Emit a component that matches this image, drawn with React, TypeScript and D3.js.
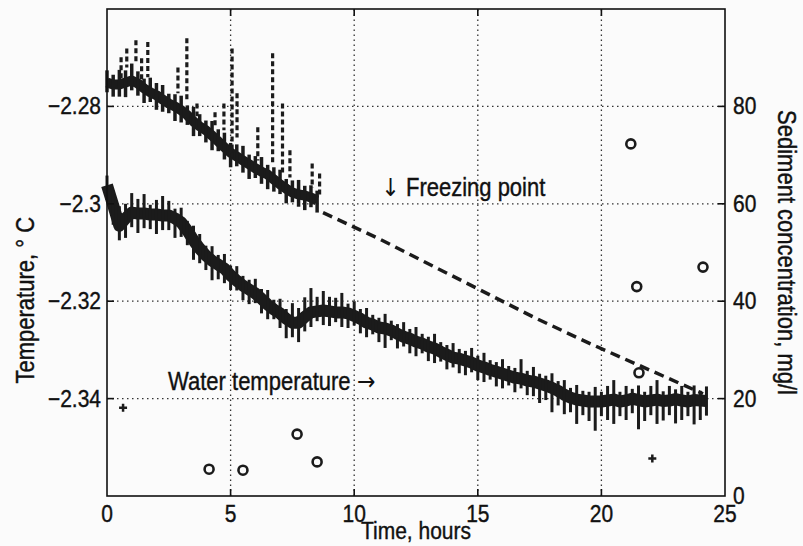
import React from "react";
import * as d3 from "d3";

const waterHours = [
  0, 0.25, 0.5, 0.75, 1, 1.25, 1.5, 1.75, 2, 2.25, 2.5, 2.75, 3, 3.25, 3.5, 3.75,
  4, 4.25, 4.5, 4.75, 5, 5.25, 5.5, 5.75, 6, 6.25, 6.5, 6.75, 7, 7.25, 7.5, 7.75,
  8, 8.25, 8.5, 8.75, 9, 9.25, 9.5, 9.75, 10, 10.25, 10.5, 10.75, 11, 11.25, 11.5, 11.75,
  12, 12.25, 12.5, 12.75, 13, 13.25, 13.5, 13.75, 14, 14.25, 14.5, 14.75, 15, 15.25, 15.5, 15.75,
  16, 16.25, 16.5, 16.75, 17, 17.25, 17.5, 17.75, 18, 18.25, 18.5, 18.75, 19, 19.25, 19.5, 19.75,
  20, 20.25, 20.5, 20.75, 21, 21.25, 21.5, 21.75, 22, 22.25, 22.5, 22.75, 23, 23.25, 23.5, 23.75,
  24, 24.25,
];
const waterTemp = [
  -2.2962, -2.3003, -2.3045, -2.303, -2.3018, -2.302, -2.302, -2.3022, -2.3022, -2.3024, -2.3024, -2.303, -2.3038, -2.3055, -2.3075, -2.3092,
  -2.3106, -2.3117, -2.3125, -2.3133, -2.3147, -2.3158, -2.3168, -2.3176, -2.3184, -2.3195, -2.3207, -2.3217, -2.3225, -2.3236, -2.3244, -2.3244,
  -2.3232, -2.3223, -2.3221, -2.3219, -2.3221, -2.3223, -2.3223, -2.3225, -2.323, -2.3236, -2.3244, -2.3248, -2.3254, -2.3256, -2.326, -2.3267,
  -2.3273, -2.3277, -2.3283, -2.3287, -2.3293, -2.3297, -2.3304, -2.331, -2.3316, -2.3318, -2.3322, -2.3326, -2.3332, -2.3336, -2.3341, -2.3345,
  -2.3349, -2.3353, -2.3357, -2.3359, -2.3363, -2.3365, -2.3369, -2.3373, -2.3378, -2.3384, -2.3392, -2.3398, -2.3402, -2.3404, -2.3406, -2.3406,
  -2.3406, -2.3404, -2.3402, -2.3406, -2.3404, -2.34, -2.3403, -2.3406, -2.3404, -2.3402, -2.3405, -2.3404, -2.3401, -2.3404, -2.3406, -2.3403,
  -2.3404, -2.3405,
];
// scatter above / below the trace, in mK
const waterUp = [
  2, 3, 4, 3, 4, 3, 4, 2, 3, 4, 3, 2, 3, 2, 3, 3, 2, 3, 2, 3,
  2, 3, 2, 2, 3, 2, 3, 2, 3, 2, 4, 3, 4, 5, 3, 4, 3, 3, 4, 2,
  3, 2, 3, 2, 2, 3, 2, 2, 3, 2, 3, 2, 2, 3, 2, 2, 3, 2, 2, 3,
  2, 3, 2, 2, 3, 2, 2, 4, 2, 3, 2, 2, 3, 2, 3, 2, 3, 2, 2, 3,
  2, 3, 4, 2, 3, 2, 3, 2, 3, 4, 2, 3, 2, 3, 2, 3, 2, 3,
];
const waterDown = [
  3, 4, 3, 4, 3, 4, 3, 3, 4, 3, 3, 4, 3, 3, 4, 3, 3, 4, 3, 3,
  3, 2, 3, 3, 2, 3, 3, 2, 3, 4, 3, 4, 3, 3, 2, 3, 3, 2, 3, 3,
  2, 3, 3, 2, 3, 4, 2, 3, 2, 3, 3, 2, 3, 3, 2, 3, 2, 3, 3, 2,
  3, 3, 2, 3, 3, 2, 3, 2, 3, 3, 4, 3, 5, 3, 4, 3, 5, 3, 4, 6,
  3, 4, 5, 3, 4, 3, 6, 4, 3, 5, 4, 3, 5, 4, 3, 5, 4, 3,
];

// measured freezing point, first 8.5 h
const freezeHours = [
  0, 0.25, 0.5, 0.75, 1, 1.25, 1.5, 1.75, 2, 2.25, 2.5, 2.75, 3, 3.25, 3.5, 3.75,
  4, 4.25, 4.5, 4.75, 5, 5.25, 5.5, 5.75, 6, 6.25, 6.5, 6.75, 7, 7.25, 7.5, 7.75,
  8, 8.25, 8.5,
];
const freezeTemp = [
  -2.2751, -2.2755, -2.2755, -2.2751, -2.2747, -2.2753, -2.2763, -2.2771, -2.2777, -2.2786, -2.2794, -2.28,
  -2.2808, -2.2818, -2.2831, -2.2841, -2.2849, -2.286, -2.2872, -2.2884, -2.2895, -2.2903, -2.2911, -2.2919,
  -2.2927, -2.2934, -2.294, -2.295, -2.296, -2.2969, -2.2977, -2.2981, -2.2983, -2.2987, -2.2993,
];
const freezeUp = [2.5, 2, 3, 2.5, 3.5, 2.5, 2, 3, 2.5, 3, 2, 2.5, 3, 2, 3, 2.5, 2, 3, 2.5, 3, 2, 2.5, 3, 2, 2.5, 3, 2, 2.5, 3, 2, 2.5, 3, 2, 2.5, 2];
const freezeDown = [2, 2.5, 2.5, 3, 2, 2.5, 3, 2, 3, 2.5, 2, 3, 2.5, 2, 3, 2, 2.5, 3, 2, 2.5, 3, 2, 2.5, 3, 2, 2.5, 3, 2.5, 2, 3, 2, 2.5, 3, 2, 2.5];

// spikes of the freezing point record: hour, top, bottom
const spikeHours = [0.57, 0.8, 1.17, 1.4, 1.65, 2.87, 3.23, 3.64, 4.37, 4.73, 5.06, 5.26, 6.1, 6.7, 7.1, 7.4, 8.3, 8.6];
const spikeTop = [-2.2699, -2.2681, -2.2664, -2.2701, -2.2668, -2.272, -2.266, -2.2794, -2.2812, -2.2794, -2.2681, -2.2773, -2.2843, -2.2691, -2.2794, -2.289, -2.2917, -2.2938];
const spikeBottom = [-2.2742, -2.272, -2.2712, -2.2747, -2.274, -2.2773, -2.2788, -2.282, -2.2845, -2.2849, -2.2911, -2.2864, -2.2911, -2.2917, -2.2938, -2.2946, -2.2967, -2.2987];

// computed freezing point after 8.5 h (dashed)
const fpHours = [8.74, 11.05, 17.39, 19.54, 24.11];
const fpTemp = [-2.3018, -2.3073, -2.3236, -2.3287, -2.339];

// sediment concentration samples
const sedHours = [4.13, 5.5, 7.69, 8.5, 21.19, 21.43, 21.52, 24.11];
const sedConc = [5.5, 5.3, 12.7, 7.0, 72.3, 43.0, 25.3, 47.0];
const plusHours = [0.65, 22.06];
const plusConc = [18.1, 7.7];

const xTicks = [0, 5, 10, 15, 20, 25];
const tempTicks = [-2.34, -2.32, -2.3, -2.28];
const concTicks = [0, 20, 40, 60, 80];

const W = 803;
const H = 546;
const font = "'Liberation Sans', Arial, Helvetica, sans-serif";
const arrowFont = "'DejaVu Sans', sans-serif";
const ink = "#1b1b1b";

// scanned lettering is a little taller than the plain font
function Label(props: any) {
  const { x, y, rotate = 0, anchor = "start", baseline, size = 21, children } = props;
  return (
    <text
      transform={`translate(${x},${y}) rotate(${rotate}) scale(1,1.13)`}
      textAnchor={anchor}
      dominantBaseline={baseline}
      fontSize={size}
      stroke="#111"
      strokeWidth={0.35}
    >
      {children}
    </text>
  );
}

export default function App() {
  const x = d3.scaleLinear().domain([0, 25]).range([107, 725]);
  const yT = d3.scaleLinear().domain([-2.36, -2.26]).range([496, 9]);
  const yC = d3.scaleLinear().domain([0, 100]).range([496, 9]);
  const [x0, x1] = x.range();
  const [b, t] = yT.range();

  const waterLine = d3.line<number>().x((d, i) => x(waterHours[i])).y((d) => yT(d));
  const freezeLine = d3.line<number>().x((d, i) => x(freezeHours[i])).y((d) => yT(d));
  const fpLine = d3.line<number>().x((d, i) => x(fpHours[i])).y((d) => yT(d));

  const fmtT = (v: number) => (v === -2.3 ? "\u22122.3" : "\u2212" + Math.abs(v).toFixed(2));

  return (
    <svg width={W} height={H} style={{ position: "absolute", left: 0, top: 0, background: "#fbfbfb" }}>
      {/* grid */}
      {tempTicks.map((v) => (
        <line key={"gy" + v} x1={x0} x2={x1} y1={yT(v)} y2={yT(v)} stroke="#333" strokeWidth={1.3} strokeDasharray="1.5 3.5" />
      ))}
      {xTicks.slice(1, -1).map((v) => (
        <line key={"gx" + v} x1={x(v)} x2={x(v)} y1={b} y2={t} stroke="#333" strokeWidth={1.3} strokeDasharray="1.5 3.5" />
      ))}

      {/* freezing point record */}
      <path d={freezeLine(freezeTemp) || ""} fill="none" stroke={ink} strokeWidth={10} strokeLinejoin="round" />
      {freezeHours.map((h, i) => (
        <line key={"fb" + i} x1={x(h)} x2={x(h)} y1={yT(freezeTemp[i] + freezeUp[i] / 1000)} y2={yT(freezeTemp[i] - freezeDown[i] / 1000)} stroke={ink} strokeWidth={3.5} />
      ))}
      {spikeHours.map((h, i) => (
        <line key={"sp" + i} x1={x(h)} x2={x(h)} y1={yT(spikeTop[i])} y2={yT(spikeBottom[i])} stroke={ink} strokeWidth={3.2} strokeDasharray="5 3" />
      ))}
      <path d={fpLine(fpTemp) || ""} fill="none" stroke={ink} strokeWidth={3.5} strokeDasharray="10 6" />

      {/* water temperature */}
      <path d={waterLine(waterTemp) || ""} fill="none" stroke={ink} strokeWidth={12} strokeLinejoin="round" />
      {waterHours.map((h, i) => (
        <line key={"wb" + i} x1={x(h)} x2={x(h)} y1={yT(waterTemp[i] + waterUp[i] / 1000)} y2={yT(waterTemp[i] - waterDown[i] / 1000)} stroke={ink} strokeWidth={3} />
      ))}

      {/* sediment samples */}
      {sedHours.map((h, i) => (
        <circle key={"c" + i} cx={x(h)} cy={yC(sedConc[i])} r={4.5} fill="none" stroke={ink} strokeWidth={2.6} />
      ))}
      {plusHours.map((h, i) => (
        <path key={"p" + i} d={`M${x(h) - 4},${yC(plusConc[i])}h8M${x(h)},${yC(plusConc[i]) - 4}v8`} stroke={ink} strokeWidth={2.5} />
      ))}

      {/* frame and ticks */}
      <rect x={x0} y={t} width={x1 - x0} height={b - t} fill="none" stroke="#111" strokeWidth={1.6} />
      {xTicks.slice(1, -1).map((v) => (
        <g key={"xt" + v}>
          <line x1={x(v)} x2={x(v)} y1={b} y2={b - 7} stroke="#111" strokeWidth={1.6} />
          <line x1={x(v)} x2={x(v)} y1={t} y2={t + 7} stroke="#111" strokeWidth={1.6} />
        </g>
      ))}
      {tempTicks.map((v) => (
        <line key={"lt" + v} x1={x0} x2={x0 + 7} y1={yT(v)} y2={yT(v)} stroke="#111" strokeWidth={1.6} />
      ))}
      {concTicks.slice(1).map((v) => (
        <line key={"rt" + v} x1={x1} x2={x1 - 7} y1={yC(v)} y2={yC(v)} stroke="#111" strokeWidth={1.6} />
      ))}

      {/* tick labels */}
      <g fontFamily={font} fill="#111">
        {xTicks.map((v) => (
          <Label key={"xl" + v} x={x(v)} y={522} anchor="middle">{v}</Label>
        ))}
        {tempTicks.map((v) => (
          <Label key={"tl" + v} x={x0 - 6} y={yT(v)} anchor="end" baseline="central">{fmtT(v)}</Label>
        ))}
        {concTicks.map((v) => (
          <Label key={"cl" + v} x={x1 + 8} y={yC(v)} baseline="central">{v}</Label>
        ))}
      </g>

      {/* axis titles and annotations */}
      <g fontFamily={font} fill="#111">
        <Label x={(x0 + x1) / 2} y={539} anchor="middle" size={21}>Time, hours</Label>
        <Label x={34} y={yT(-2.3198)} rotate={-90} anchor="middle" size={22}>Temperature, ° C</Label>
        <Label x={778} y={yC(50)} rotate={90} anchor="middle" size={22}>Sediment concentration, mg/l</Label>
        <Label x={x(11.1)} y={yT(-2.2983)} size={22}>
          <tspan fontFamily={arrowFont} strokeWidth={0}>↓</tspan> Freezing point
        </Label>
        <Label x={x(2.47)} y={yT(-2.3382)} size={22}>
          Water temperature <tspan fontFamily={arrowFont} strokeWidth={0}>→</tspan>
        </Label>
      </g>
    </svg>
  );
}
